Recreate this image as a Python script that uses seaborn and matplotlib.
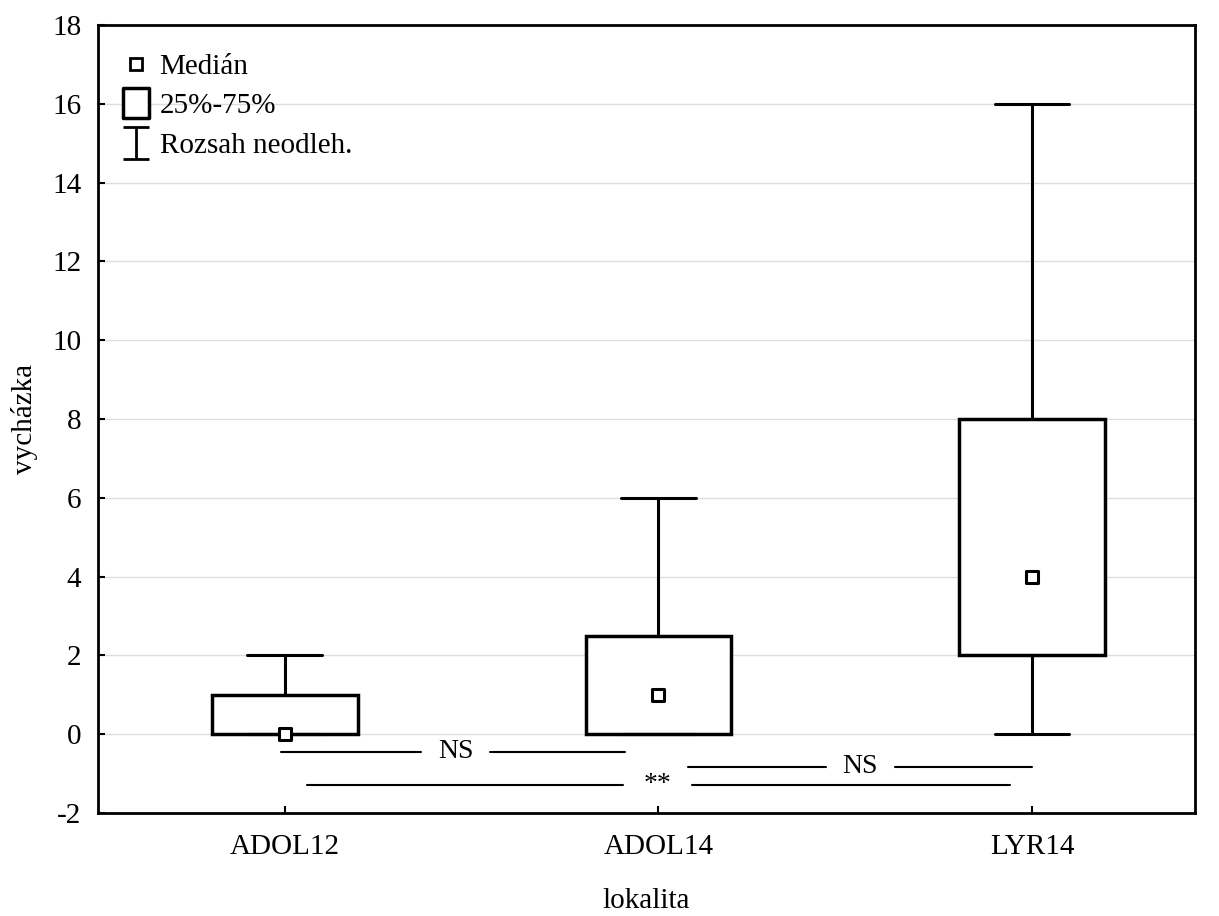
import matplotlib
matplotlib.use("Agg")
import matplotlib.pyplot as plt
from matplotlib.lines import Line2D
from matplotlib.path import Path
import seaborn as sns
import pandas as pd

# Summary statistics per site
categories = ["ADOL12", "ADOL14", "LYR14"]
medians = [0, 1, 4]
q1 = [0, 0, 2]
q3 = [1, 2.5, 8]
whisker_low = [0, 0, 0]
whisker_high = [2, 6, 16]

# Pairwise comparisons: (from, to, label, y level, label position)
comparisons = [
    (-0.01, 0.91, "NS", -0.45, 0.457),
    (1.08, 2.0, "NS", -0.82, 1.54),
    (0.06, 1.94, "**", -1.28, 0.997),
]

y_ticks = list(range(-2, 19, 2))

sns.set_theme(style="white")
plt.rcParams["font.family"] = ["Liberation Serif", "DejaVu Serif"]
plt.rcParams["text.color"] = "black"
plt.rcParams["axes.labelcolor"] = "black"

FS = 21

fig = plt.figure(figsize=(12.19, 9.16), dpi=100)
ax = fig.add_axes([0.0804, 0.1124, 0.8999, 0.8603])

stats = []
for i, c in enumerate(categories):
    stats.append(dict(label=c, med=medians[i], q1=q1[i], q3=q3[i],
                      whislo=whisker_low[i], whishi=whisker_high[i], fliers=[]))

ax.bxp(stats, positions=range(len(categories)), widths=0.39,
       showfliers=False, patch_artist=True,
       boxprops=dict(facecolor="white", edgecolor="black", linewidth=2.5),
       whiskerprops=dict(color="black", linewidth=2.2),
       capprops=dict(color="black", linewidth=2.2),
       medianprops=dict(linewidth=0), capwidths=0.2, zorder=3)

df = pd.DataFrame({"pos": range(len(categories)), "median": medians})
sns.scatterplot(data=df, x="pos", y="median", marker="s", s=80,
                facecolor="white", edgecolor="black", linewidth=2.2,
                ax=ax, zorder=4, legend=False)

# Significance lines with label gap
gap = 0.092
for x0, x1, lab, yl, xt in comparisons:
    ax.plot([x0, xt - gap], [yl, yl], color="black", lw=1.5, zorder=3)
    ax.plot([xt + gap, x1], [yl, yl], color="black", lw=1.5, zorder=3)
    ax.text(xt, yl, lab, ha="center", va="center", fontsize=FS - 1,
            color="black", zorder=4)

ax.set_xlim(-0.5, 2.436)
ax.set_ylim(-2, 18)
ax.set_yticks(y_ticks)
ax.set_yticklabels([str(t) for t in y_ticks])
ax.set_xticks(range(len(categories)))
ax.set_xticklabels(categories)
ax.grid(axis="y", color="#dddddd", linewidth=1, zorder=0)
ax.set_axisbelow(True)
ax.tick_params(direction="in", length=5, width=1.5, colors="black",
               labelsize=FS, left=True, bottom=True)
ax.tick_params(axis="y", pad=12)
ax.tick_params(axis="x", pad=15)
for s in ax.spines.values():
    s.set_color("black")
    s.set_linewidth(2)

ax.set_xlabel("lokalita", fontsize=FS, labelpad=20)
ax.set_ylabel("vycházka", fontsize=FS, labelpad=10)

# Legend glyphs: a tall open box and an I-beam for the whisker range
tall_box = Path([(-0.43, -0.5), (0.43, -0.5), (0.43, 0.5), (-0.43, 0.5), (-0.43, -0.5)],
                [Path.MOVETO, Path.LINETO, Path.LINETO, Path.LINETO, Path.CLOSEPOLY])
ibeam = Path([(-0.8, 1), (0.8, 1), (0, 1), (0, -1), (-0.8, -1), (0.8, -1)],
             [Path.MOVETO, Path.LINETO, Path.MOVETO, Path.LINETO,
              Path.MOVETO, Path.LINETO])
handles = [
    Line2D([], [], marker="s", linestyle="none", markersize=8,
           markerfacecolor="white", markeredgecolor="black", markeredgewidth=2),
    Line2D([], [], marker=tall_box, linestyle="none", markersize=21,
           markerfacecolor="white", markeredgecolor="black", markeredgewidth=2.5),
    Line2D([], [], marker=ibeam, linestyle="none", markersize=23,
           markerfacecolor="none", markeredgecolor="black", markeredgewidth=2),
]
ax.legend(handles, ["Medián", "25%-75%", "Rozsah neodleh."], loc="upper left",
          frameon=False, fontsize=FS, handletextpad=0.0, labelspacing=0.45,
          borderaxespad=0.3, handlelength=1.6, bbox_to_anchor=(-0.005, 0.99))

fig.savefig("out.png", dpi=100)
